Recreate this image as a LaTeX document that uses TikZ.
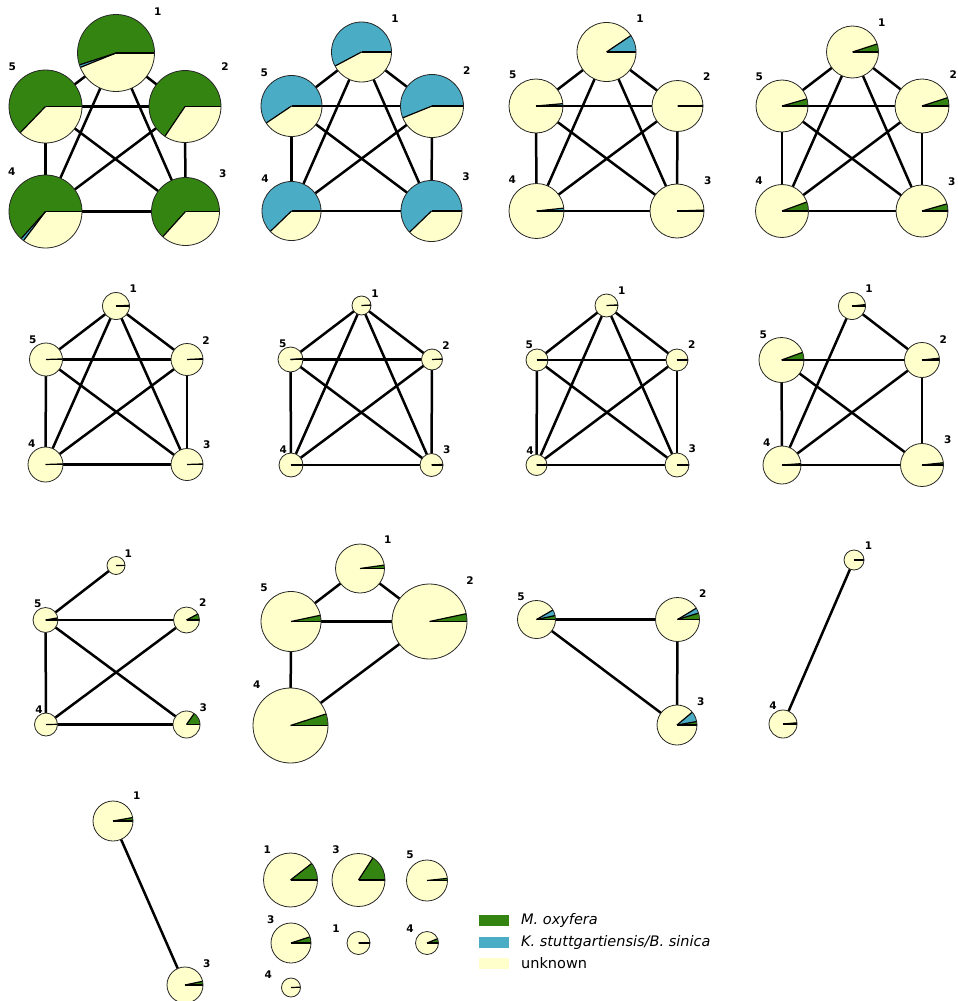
\documentclass[tikz,border=0pt]{standalone}
\usepackage{fontspec}
\setmainfont{DejaVu Sans}
\usetikzlibrary{backgrounds}
\definecolor{mgreen}{RGB}{52,132,18}
\definecolor{mblue}{RGB}{75,172,198}
\definecolor{myellow}{RGB}{255,255,204}
\tikzset{
  piebase/.style={circle,fill=myellow,draw=none,inner sep=0pt,outer sep=0pt},
  wedge/.style={line width=1.2pt,black},
  rim/.style={line width=0.8pt,black!85},
  edge/.style={line width=2.5pt,black},
  lbl/.style={font=\fontsize{10.5}{12}\selectfont\bfseries,inner sep=0pt},
  legtxt/.style={font=\fontsize{14.5}{16}\selectfont,anchor=west,inner sep=0pt},
  legbox/.style={minimum width=30pt,minimum height=11pt,inner sep=0pt,draw=none}
}
\newcommand\piechart[6]{%
  \node[piebase,minimum size=#4*2pt] (#1) at (#2,-#3) {};
  \pgfmathsetmacro\gbsum{#5+#6}%
  \ifdim #5pt>0pt \fill[mgreen] (#1.center) -- ++(0:#4pt) arc[start angle=0,end angle=#5,radius=#4pt] -- cycle;\fi
  \ifdim #6pt>0pt \fill[mblue] (#1.center) -- ++(#5:#4pt) arc[start angle=#5,end angle=\gbsum,radius=#4pt] -- cycle;\fi
  \draw[wedge] (#1.center) -- ++(0:#4pt);
  \ifdim #5pt>0pt \draw[wedge] (#1.center) -- ++(#5:#4pt);\fi
  \ifdim #6pt>0pt \draw[wedge] (#1.center) -- ++(\gbsum:#4pt);\fi
  \draw[rim] (#1.center) circle[radius=#4pt];
}
\newcommand\plabel[4]{\node[lbl] (#1) at (#2,-#3) {#4};}
\begin{document}
\begin{tikzpicture}[x=1pt,y=1pt]
\useasboundingbox (0,0) rectangle (958,-1001);
% ---------- Row 1 ----------
\piechart{A1}{116}{53}{38.5}{198}{4}
\piechart{A5}{45.5}{106.5}{36.5}{226}{0}
\piechart{A2}{185}{106.5}{36}{236}{0}
\piechart{A4}{45.5}{211.5}{36.5}{228}{5}
\piechart{A3}{185.5}{211.5}{34}{228}{0}
\plabel{A1l}{157.7}{11.7}{1}\plabel{A5l}{12.3}{66.7}{5}\plabel{A2l}{225}{66.7}{2}
\plabel{A4l}{11.7}{171.7}{4}\plabel{A3l}{222.7}{173.3}{3}

\piechart{B1}{361.5}{52}{30}{0}{208}
\piechart{B5}{291.5}{106}{30.5}{0}{214}
\piechart{B2}{432}{106}{31.5}{0}{202}
\piechart{B4}{291.5}{211}{29.5}{0}{224}
\piechart{B3}{431.5}{211}{30.5}{0}{224}
\plabel{B1l}{395}{18.3}{1}\plabel{B5l}{264.3}{72.3}{5}\plabel{B2l}{466.7}{70.7}{2}
\plabel{B4l}{265}{178.3}{4}\plabel{B3l}{466}{176.7}{3}

\piechart{C1}{606.5}{52}{29.5}{0}{34}
\piechart{C5}{536}{106}{27}{0}{5}
\piechart{C2}{677.5}{106}{25.5}{0}{1}
\piechart{C4}{536.5}{211}{27.5}{0}{6}
\piechart{C3}{677}{211}{27}{0}{2}
\plabel{C1l}{640}{19}{1}\plabel{C5l}{512.7}{75}{5}\plabel{C2l}{706.7}{76.7}{2}
\plabel{C4l}{512.3}{180}{4}\plabel{C3l}{707.7}{180.3}{3}

\piechart{D1}{852.5}{52}{26}{18}{0}
\piechart{D5}{782}{106}{26}{16}{0}
\piechart{D2}{922}{106}{27}{18}{0}
\piechart{D4}{782}{211}{26.5}{20}{0}
\piechart{D3}{922}{211}{26}{16}{0}
\plabel{D1l}{881.7}{22.3}{1}\plabel{D5l}{759.3}{76.7}{5}\plabel{D2l}{953.3}{75}{2}
\plabel{D4l}{759}{181}{4}\plabel{D3l}{951.7}{181.7}{3}
% ---------- Row 2 ----------
\piechart{E1}{116}{306}{13.5}{3}{0}
\piechart{E5}{46}{359.5}{16.5}{2}{0}
\piechart{E2}{187}{359.5}{16}{3}{0}
\piechart{E4}{45.5}{464.5}{17.5}{2}{0}
\piechart{E3}{187}{464.5}{16}{2}{0}
\plabel{E1l}{133.3}{289}{1}\plabel{E5l}{32.7}{340}{5}\plabel{E2l}{206}{340.7}{2}
\plabel{E4l}{31.7}{444}{4}\plabel{E3l}{206.7}{445}{3}

\piechart{F1}{361.5}{305.5}{9.5}{3}{0}
\piechart{F5}{290.5}{359.5}{12.5}{2}{2}
\piechart{F2}{432}{359.5}{10.5}{3}{0}
\piechart{F4}{291}{465}{12}{2}{0}
\piechart{F3}{431.5}{465}{11.5}{3}{0}
\plabel{F1l}{375}{293.3}{1}\plabel{F5l}{282.7}{343.3}{5}\plabel{F2l}{446}{346}{2}
\plabel{F4l}{283.3}{450}{4}\plabel{F3l}{446.7}{450}{3}

\piechart{G1}{606.5}{305.5}{11.5}{3}{0}
\piechart{G5}{537}{360}{11}{2}{0}
\piechart{G2}{677}{360}{11}{3}{0}
\piechart{G4}{536.5}{465}{10.5}{3}{0}
\piechart{G3}{677}{465}{12}{2}{0}
\plabel{G1l}{621.7}{290.7}{1}\plabel{G5l}{529.3}{345}{5}\plabel{G2l}{691.7}{345}{2}
\plabel{G4l}{530}{451}{4}\plabel{G3l}{692.3}{449}{3}

\piechart{H1}{852}{306}{13.5}{6}{0}
\piechart{H5}{781.5}{360}{22.5}{20}{0}
\piechart{H2}{922}{360}{17.5}{6}{0}
\piechart{H4}{782}{465}{19}{4}{0}
\piechart{H3}{922}{465}{21.5}{6}{0}
\plabel{H1l}{869}{289}{1}\plabel{H5l}{763.3}{334.3}{5}\plabel{H2l}{943.3}{339.3}{2}
\plabel{H4l}{766.7}{442.7}{4}\plabel{H3l}{947.7}{439.3}{3}
% ---------- Row 3 ----------
\piechart{I1}{116}{565.5}{9}{1}{0}
\piechart{I5}{45.5}{620}{12.5}{10}{0}
\piechart{I2}{186.5}{620}{13}{28}{0}
\piechart{I4}{46}{724.5}{11.5}{1}{0}
\piechart{I3}{186.5}{724.5}{13.5}{55}{0}
\plabel{I1l}{128.3}{553.3}{1}\plabel{I5l}{37.7}{603.3}{5}\plabel{I2l}{202.7}{602.7}{2}
\plabel{I4l}{39}{710}{4}\plabel{I3l}{203.3}{707.7}{3}

\piechart{J1}{360}{568.5}{24.5}{8}{0}
\piechart{J5}{291}{621.5}{30}{12}{0}
\piechart{J2}{429.5}{621.5}{37.5}{12}{0}
\piechart{J4}{290.5}{725.5}{37.5}{18}{0}
\plabel{J1l}{387.7}{540}{1}\plabel{J5l}{264}{587.7}{5}\plabel{J2l}{470}{581}{2}
\plabel{J4l}{256.7}{684.3}{4}

\piechart{K5}{536.5}{619.5}{19}{12}{18}
\piechart{K2}{677.5}{619.5}{22}{17}{14}
\piechart{K3}{677}{725}{20}{10}{30}
\plabel{K5l}{521}{596.7}{5}\plabel{K2l}{702.7}{594}{2}\plabel{K3l}{700.7}{701.7}{3}

\piechart{L1}{854}{560}{10}{2}{0}
\piechart{L4}{783}{724}{14}{5}{0}
\plabel{L1l}{868.5}{546}{1}\plabel{L4l}{773}{706}{4}
% ---------- Row 4 ----------
\piechart{M1}{113}{821}{20}{10}{0}
\piechart{M3}{185}{985}{18}{12}{0}
\plabel{M1l}{136.7}{796}{1}\plabel{M3l}{206.7}{963.3}{3}

\piechart{N1}{290.5}{880}{27}{38}{0}
\piechart{N3}{358.5}{880}{26.5}{57}{0}
\piechart{N5}{427}{880.5}{20.5}{6}{0}
\piechart{N3b}{291}{943}{20}{18}{0}
\piechart{N1b}{358.5}{943}{11.5}{2}{0}
\piechart{N4}{427}{943}{11.5}{22}{0}
\piechart{N4b}{291}{987.5}{9.5}{2}{0}
\plabel{N1l}{267.3}{850}{1}\plabel{N3l}{336}{850}{3}\plabel{N5l}{410}{855}{5}
\plabel{N3bl}{270.7}{920}{3}\plabel{N1bl}{336}{928.3}{1}\plabel{N4l}{410}{929}{4}
\plabel{N4bl}{268.3}{974.3}{4}
% ---------- Legend ----------
\node[legbox,fill=mgreen] (lg1) at (494,-920.5) {};
\node[legbox,fill=mblue] (lg2) at (494,-942) {};
\node[legbox,fill=myellow] (lg3) at (494,-963.5) {};
\node[legtxt] (lt1) at (521,-920.5) {\textit{M. oxyfera}};
\node[legtxt] (lt2) at (521,-942) {\textit{K. stuttgartiensis/B. sinica}};
\node[legtxt] (lt3) at (521,-963.5) {unknown};
% ---------- Edges ----------
\begin{scope}[on background layer]
\foreach \p in {A,B,C,D,E,F,G}{
  \foreach \u/\v in {1/2,1/3,1/4,1/5,2/3,2/4,2/5,3/4,3/5,4/5}
    \draw[edge] (\p\u) -- (\p\v);
}
\foreach \u/\v in {1/2,1/4,5/2,5/4,5/3,2/4,2/3,4/3} \draw[edge] (H\u) -- (H\v);
\foreach \u/\v in {1/5,5/2,5/4,5/3,2/4,4/3} \draw[edge] (I\u) -- (I\v);
\foreach \u/\v in {1/5,1/2,5/2,5/4,2/4} \draw[edge] (J\u) -- (J\v);
\foreach \u/\v in {5/2,5/3,2/3} \draw[edge] (K\u) -- (K\v);
\draw[edge] (L1) -- (L4);
\draw[edge] (M1) -- (M3);
\end{scope}
\end{tikzpicture}
\end{document}
